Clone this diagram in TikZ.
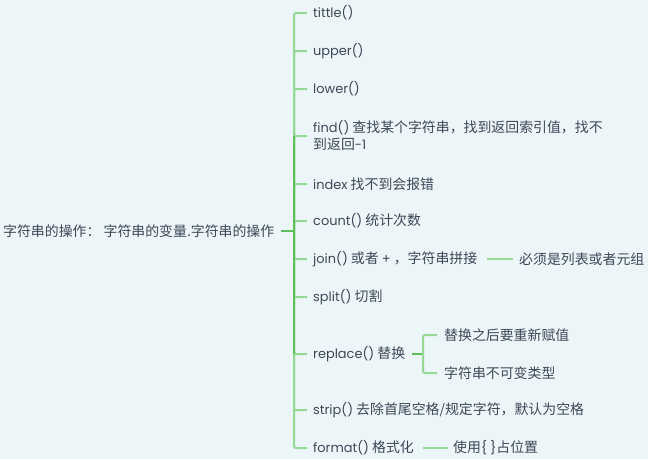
\documentclass[tikz,border=0pt]{standalone}
\usepackage{fontspec}
\setmainfont{Noto Sans CJK SC}
\newfontfamily\lt{Poppins}[Scale=0.93]
\definecolor{bgc}{HTML}{ECF6F9}
\definecolor{txt}{HTML}{3E4757}
\definecolor{trunkc}{HTML}{5DBE5B}
\definecolor{branchc}{HTML}{94DA94}
\begin{document}
\begin{tikzpicture}[x=1pt,y=-1pt,
  lbl/.style={anchor=west,inner sep=0pt,text=txt,font=\fontsize{13.9}{17}\selectfont},
  trunk/.style={draw=trunkc,line width=2pt},
  branch/.style={draw=branchc,line width=2pt,rounded corners=2pt}]
\fill[bgc] (0,0) rectangle (648,459);
\useasboundingbox (0,0) rectangle (648,459);
\node[lbl] (root) at (3,231) {字符串的操作： 字符串的变量.字符串的操作};
\node[lbl] (n1) at (313,13) {\lt tittle()};
\node[lbl] (n2) at (313,51) {\lt upper()};
\node[lbl] (n3) at (313,89) {\lt lower()};
\node[lbl,align=left] (n4) at (313,136) {{\lt find()} 查找某个字符串，找到返回索引值，找不\\到返回{\lt -1}};
\node[lbl] (n5) at (313,184) {{\lt index} 找不到会报错};
\node[lbl] (n6) at (313,221) {{\lt count()} 统计次数};
\node[lbl] (n7) at (313,259) {{\lt join()} 或者 {\lt +} ，字符串拼接};
\node[lbl] (n8) at (313,297) {{\lt split()} 切割};
\node[lbl] (n9) at (313,354) {{\lt replace()} 替换};
\node[lbl] (n10) at (313,410) {{\lt strip()} 去除首尾空格/规定字符，默认为空格};
\node[lbl] (n11) at (313,448) {{\lt format()} 格式化};
\node[lbl] (s1) at (519,259) {必须是列表或者元组};
\node[lbl] (s2) at (444,335) {替换之后要重新赋值};
\node[lbl] (s3) at (444,373) {字符串不可变类型};
\node[lbl] (s4) at (453,448) {使用{\lt\{ \}}占位置};
\coordinate (J) at (294,231);
\foreach \n in {n1,n2,n3,n4,n5,n6,n7,n8,n9,n10,n11}
  \draw[branch] (J) |- ([xshift=-6pt]\n.west);
\draw[trunk] (J|-n4.west) -- (J|-n9.west);
\draw[trunk] ([xshift=7pt]root.east) -- (J);
\coordinate (K) at (423,354);
\draw[trunk] ([xshift=7pt]n9.east) -- (K);
\draw[branch] (K) |- ([xshift=-7pt]s2.west);
\draw[branch] (K) |- ([xshift=-7pt]s3.west);
\draw[branch] ([xshift=10pt]n7.east) -- ([xshift=-6pt]s1.west);
\draw[branch] ([xshift=9pt]n11.east) -- ([xshift=-5pt]s4.west);
\end{tikzpicture}
\end{document}
